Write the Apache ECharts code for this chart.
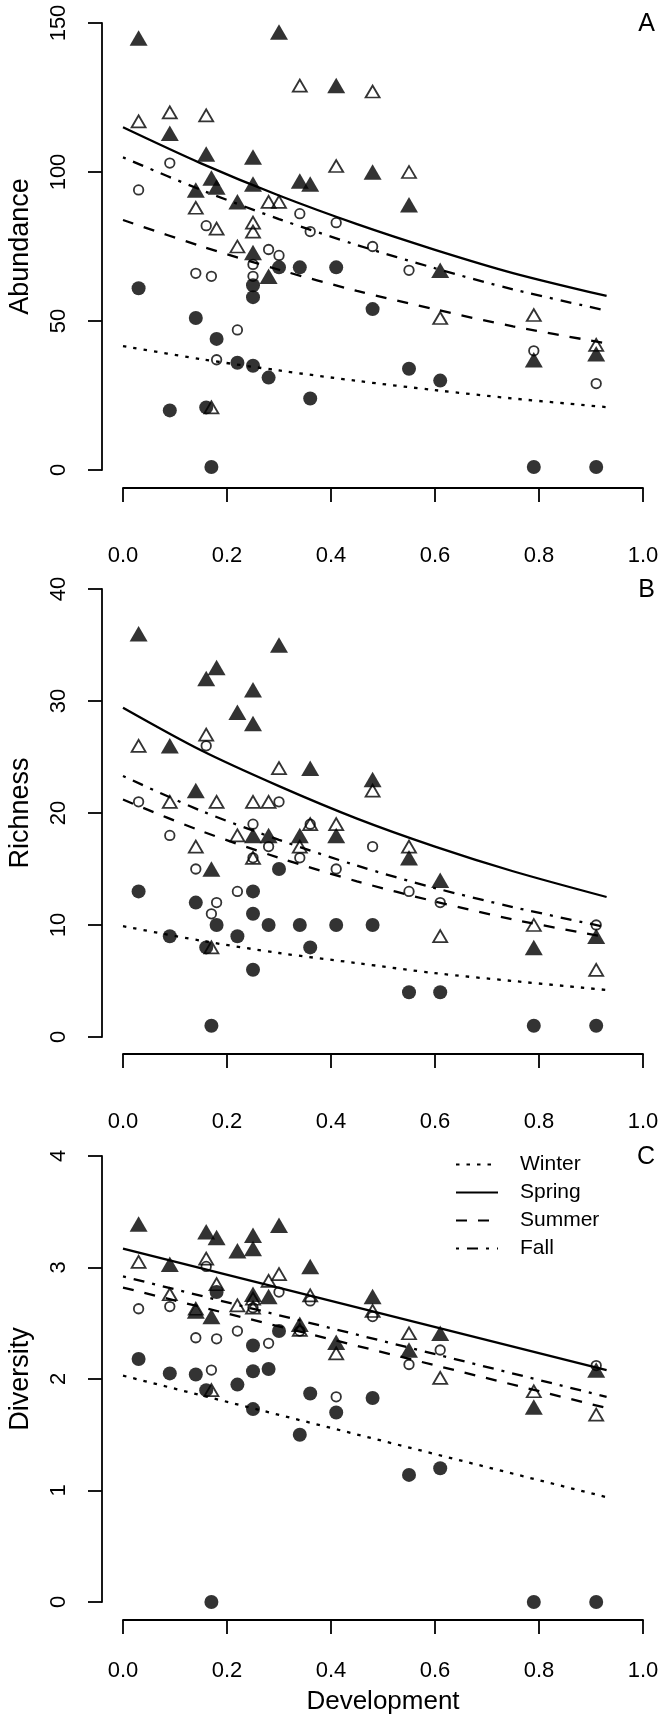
<!DOCTYPE html>
<html><head><meta charset="utf-8">
<script src="https://cdn.jsdelivr.net/npm/echarts@6/dist/echarts.min.js"></script>
<style>html,body{margin:0;padding:0;background:#fff}#c{width:664px;height:1724px}</style>
</head><body><div id="c"></div>
<script>
// ---- DATA ----
const sites = [0.03,0.09,0.14,0.16,0.17,0.18,0.22,0.25,0.25,0.25,0.28,0.30,0.34,0.36,0.41,0.48,0.55,0.61,0.79,0.91];
const seasons = ['Winter','Spring','Summer','Fall'];
const yTitles = ['Abundance','Richness','Diversity'];
const xTitle = 'Development';
const panelLetters = ['A','B','C'];
const xTickLabels = ['0.0','0.2','0.4','0.6','0.8','1.0'];
const yMax = [150, 40, 4];
const yStep = [50, 10, 1];

// Panel A: Abundance
const abWinter = [61,20,51,21,1,44,36,35,62,58,31,68,68,24,68,54,34,30,1,1];
const abSpring = [145,113,94,106,98,95,90,105,96,73,65,147,97,96,129,100,89,67,37,39];
const abSummer = [94,103,66,82,65,37,47,69,65,null,74,72,86,80,83,75,67,null,40,29];
const abFall   = [117,120,88,119,21,81,75,83,80,null,90,90,129,null,102,127,100,51,52,42];
// Panel B: Richness
const riWinter = [13,9,12,8,1,10,9,13,11,6,10,15,10,8,10,10,4,4,1,1];
const riSpring = [36,26,22,32,15,33,29,31,28,18,18,35,18,24,18,23,16,14,8,9];
const riSummer = [21,18,15,26,11,12,13,19,16,null,17,21,16,19,15,17,13,12,null,10];
const riFall   = [26,21,17,27,8,21,18,21,16,null,21,24,17,19,19,22,17,9,10,6];
// Panel C: Diversity
const diWinter = [2.18,2.05,2.04,1.90,0,2.78,1.95,2.30,2.07,1.73,2.09,2.43,1.50,1.87,1.70,1.83,1.14,1.20,0,0];
const diSpring = [3.39,3.03,2.61,3.32,2.56,3.27,3.15,3.29,3.17,2.76,2.74,3.38,2.49,3.01,2.33,2.74,2.26,2.41,1.75,2.08];
const diSummer = [2.63,2.65,2.37,3.01,2.08,2.36,2.43,2.64,null,null,2.32,2.78,2.43,2.70,1.84,2.56,2.13,2.26,null,2.12];
const diFall   = [3.05,2.76,2.63,3.08,1.90,2.85,2.66,2.64,2.72,null,2.88,2.94,2.44,2.75,2.23,2.61,2.41,2.01,1.89,1.68];

// fitted lines
const curveX = [0,0.15,0.30,0.45,0.60,0.75,0.93];
const abLineWinter = [41.6,37.2,33.4,29.9,26.8,24.0,21.1];
const abLineSpring = [115,102.9,92.1,82.5,73.9,66.1,58.4];
const abLineSummer = [83.9,75.1,67.2,60.1,53.9,48.2,42.5];
const abLineFall   = [104.9,94.0,84.2,75.5,67.7,60.6,53.5];
const riLineWinter = [9.9,8.6,7.5,6.6,5.7,5.0,4.2];
const riLineSpring = [29.4,25.6,22.4,19.5,17.0,14.8,12.5];
const riLineSummer = [21.2,18.4,16.0,13.9,12.1,10.5,8.9];
const riLineFall   = [23.3,20.2,17.6,15.3,13.3,11.6,9.8];
const lineXC = [0,0.93];
const diLineWinter = [2.03,0.94];
const diLineSpring = [3.17,2.08];
const diLineSummer = [2.82,1.74];
const diLineFall   = [2.92,1.84];

const points = [
  [abWinter,abSpring,abSummer,abFall],
  [riWinter,riSpring,riSummer,riFall],
  [diWinter,diSpring,diSummer,diFall]
];
const lines = [
  [curveX,[abLineWinter,abLineSpring,abLineSummer,abLineFall]],
  [curveX,[riLineWinter,riLineSpring,riLineSummer,riLineFall]],
  [lineXC,[diLineWinter,diLineSpring,diLineSummer,diLineFall]]
];

// ---- STYLE ----
const FONT = '"Liberation Sans", Arial, Helvetica, sans-serif';
const grids = [{top:23,height:447},{top:589,height:448},{top:1156,height:446}];
const xOffsets = [18,17,18];
const xLabelMargins = [57,57,40];
const dashes = {Winter:[3.5,7], Spring:'solid', Summer:[11,11], Fall:[3,8,11,8]};
const markerStyles = [
  {symbol:'circle', symbolSize:14, itemStyle:{color:'#000'}},
  {symbol:'triangle', symbolSize:[18,15.5], itemStyle:{color:'#000'}},
  {symbol:'circle', symbolSize:9.5, itemStyle:{color:'rgba(0,0,0,0)', borderColor:'#000', borderWidth:1.8}},
  {symbol:'triangle', symbolSize:[14,12], itemStyle:{color:'rgba(0,0,0,0)', borderColor:'#000', borderWidth:1.8}}
];

const titles = panelLetters.map((t,i)=>({text:t, right:9, top:grids[i].top-11.5, padding:0,
    textStyle:{fontFamily:FONT, fontSize:25, fontWeight:'normal', color:'#000', lineHeight:25}}));
titles.push({text:xTitle, left:123+260, textAlign:'center', top:1688, padding:0,
    textStyle:{fontFamily:FONT, fontSize:26, fontWeight:'normal', color:'#000', lineHeight:28}});

const option = {
  animation:false,
  backgroundColor:'#fff',
  title: titles,
  grid: grids.map(g=>({left:123, right:21, top:g.top, height:g.height, containLabel:false, outerBoundsMode:'none'})),
  xAxis: grids.map((g,i)=>({
    type:'value', gridIndex:i, min:0, max:1, interval:0.2, offset:xOffsets[i],
    axisLine:{show:true, onZero:false, lineStyle:{color:'#000', width:1.8}},
    axisTick:{show:true, length:14, lineStyle:{color:'#000', width:1.8}},
    splitLine:{show:false},
    axisLabel:{margin:xLabelMargins[i], fontFamily:FONT, fontSize:22, color:'#000',
      formatter:v=>xTickLabels[Math.round(v/0.2)]}
  })),
  yAxis: grids.map((g,i)=>({
    type:'value', gridIndex:i, min:0, max:yMax[i], interval:yStep[i], offset:21,
    axisLine:{show:true, onZero:false, lineStyle:{color:'#000', width:1.8}},
    axisTick:{show:true, length:14, lineStyle:{color:'#000', width:1.8}},
    splitLine:{show:false},
    axisLabel:{rotate:90, margin:32, fontFamily:FONT, fontSize:22, color:'#000'},
    name: yTitles[i], nameLocation:'middle', nameGap:68, nameRotate:90,
    nameTextStyle:{fontFamily:FONT, fontSize:27, color:'#000'}
  })),
  legend:{
    data:seasons, orient:'vertical', left:455, top:1154, padding:0,
    itemWidth:42, itemHeight:14, itemGap:7,
    itemStyle:{color:'rgba(0,0,0,0)', borderColor:'rgba(0,0,0,0)', borderWidth:0},
    textStyle:{fontFamily:FONT, fontSize:21, color:'#000', lineHeight:21, padding:[0,0,0,17]}
  },
  series:[]
};

points.forEach((pset,pi)=>{
  pset.forEach((vals,si)=>{
    const data = [];
    vals.forEach((v,k)=>{ if(v!==null) data.push([sites[k], v]); });
    option.series.push(Object.assign({
      type:'scatter', name:seasons[si]+' points', xAxisIndex:pi, yAxisIndex:pi,
      data, clip:false, z:2, silent:true
    }, JSON.parse(JSON.stringify(markerStyles[si]))));
  });
});
lines.forEach(([xs,sets],pi)=>{
  sets.forEach((ys,si)=>{
    option.series.push({
      type:'line', name:seasons[si], xAxisIndex:pi, yAxisIndex:pi,
      data: xs.map((x,k)=>[x, ys[k]]), smooth: pi<2 ? 0.3 : false,
      symbol:'none', showSymbol:false, clip:false, z:3, silent:true,
      lineStyle:{color:'#000', width:2.3, type:dashes[seasons[si]]},
      itemStyle:{color:'#000'}
    });
  });
});

const chart = echarts.init(document.getElementById('c'), null, {renderer:'canvas'});
chart.setOption(option);
</script></body></html>
